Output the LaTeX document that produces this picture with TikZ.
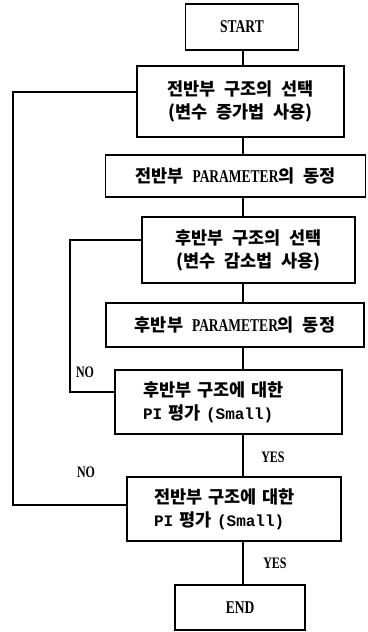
\documentclass[tikz,border=0pt]{standalone}
\usepackage{fontspec}
\newfontfamily\kr[WordSpace=2.2]{Noto Sans CJK KR}
\newfontfamily\cond[FakeStretch=0.75]{Liberation Serif}
\newfontfamily\mono{Liberation Mono}
\newcommand{\lat}[1]{{\cond\bfseries\fontsize{18}{23}\selectfont #1}}
\newcommand{\mlat}[1]{{\mono\bfseries\fontsize{16}{23}\selectfont #1}}
\begin{document}
\begin{tikzpicture}[x=1pt,y=-1pt,line width=1.1pt,
  box/.style={draw, inner sep=0pt, align=center,
    font=\kr\bfseries\fontsize{17.5}{23}\selectfont},
  lbox/.style={box, align=left},
  term/.style={draw, inner sep=0pt, font=\cond\bfseries\fontsize{18}{18}\selectfont},
  lbl/.style={inner sep=0pt, font=\cond\bfseries\fontsize{16}{16}\selectfont}]
\useasboundingbox (0,0) rectangle (367,632);

\node[term, minimum width=113pt, minimum height=46pt] (start) at (242,27) {START};
\node[box, minimum width=207pt, minimum height=71pt] (b1) at (240.5,101.5)
  {전반부 구조의 선택\\(변수 증가법 사용)};
\node[box, minimum width=260pt, minimum height=42pt] (b2) at (235.5,176)
  {전반부 \lat{PARAMETER}의 동정};
\node[box, minimum width=213pt, minimum height=66pt] (b3) at (248.5,250)
  {후반부 구조의 선택\\(변수 감소법 사용)};
\node[box, minimum width=258pt, minimum height=44pt] (b4) at (235,325)
  {후반부 \lat{PARAMETER}의 동정};
\node[lbox, minimum width=227pt, minimum height=64pt, text width=171pt,
  inner xsep=28pt] (b5) at (228.5,402)
  {후반부 구조에 대한\\\mlat{PI} 평가 \mlat{(Small)}};
\node[lbox, minimum width=214pt, minimum height=64pt, text width=160pt,
  inner xsep=27pt] (b6) at (234,509)
  {전반부 구조에 대한\\\mlat{PI} 평가 \mlat{(Small)}};
\node[term, minimum width=130pt, minimum height=45pt] (end) at (240,607.5) {END};

\coordinate (trunk) at (243,0);
\draw (start.south -| trunk) -- (b1.north -| trunk);
\draw (b1.south -| trunk) -- (b2.north -| trunk);
\draw (b2.south -| trunk) -- (b3.north -| trunk);
\draw (b3.south -| trunk) -- (b4.north -| trunk);
\draw (b4.south -| trunk) -- (b5.north -| trunk);
\draw (b5.south -| trunk) -- (b6.north -| trunk);
\draw (b6.south -| trunk) -- (end.north -| trunk);

\coordinate (olb) at (13,505);
\coordinate (olt) at (13,92);
\draw (b6.west |- olb) -- (olb) -- (olt) -- (b1.west |- olt);
\coordinate (ilb) at (70,392);
\coordinate (ilt) at (70,240);
\draw (b5.west |- ilb) -- (ilb) -- (ilt) -- (b3.west |- ilt);

\node[lbl] (no1) at (85,372) {NO};
\node[lbl] (no2) at (86,472) {NO};
\node[lbl] (yes1) at (273,457) {YES};
\node[lbl] (yes2) at (275,563) {YES};
\end{tikzpicture}
\end{document}
